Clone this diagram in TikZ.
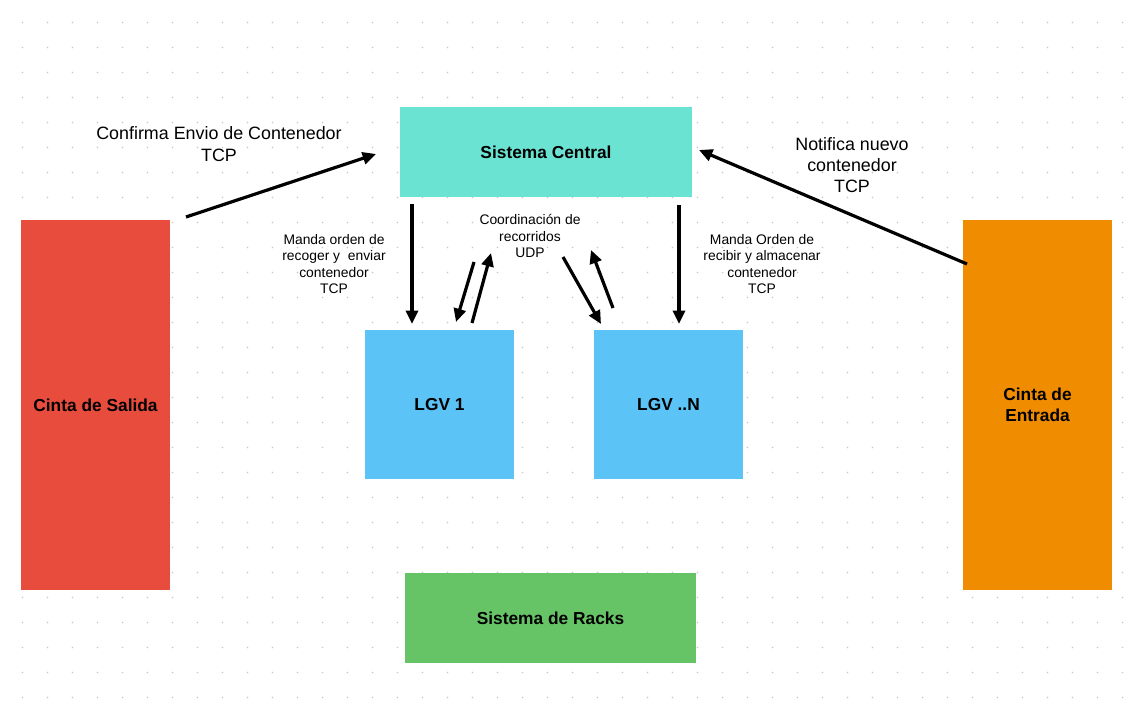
\documentclass[tikz,border=0pt]{standalone}
\usepackage{fontspec}
\setmainfont{Liberation Sans}
\usetikzlibrary{arrows.meta}
\definecolor{central}{HTML}{6BE3D3}
\definecolor{salida}{HTML}{E84C3D}
\definecolor{entrada}{HTML}{F08C00}
\definecolor{lgv}{HTML}{5BC3F5}
\definecolor{racks}{HTML}{66C466}
\tikzset{
  box/.style={rectangle, inner sep=0pt, font=\fontsize{13}{15.5}\selectfont\bfseries, text=black, align=center},
  arr/.style={line width=2.4pt, -{Triangle[length=10pt,width=9pt]}},
  biglbl/.style={font=\fontsize{13.4}{16}\selectfont, align=center},
  smalllbl/.style={font=\fontsize{10.4}{12.3}\selectfont, align=center},
}
\begin{document}
\begin{tikzpicture}[x=0.75pt,y=-0.75pt]
\useasboundingbox (0,0) rectangle (1130,714);
\fill[white] (0,0) rectangle (1130,714);
\foreach \i in {0,...,44} {
  \foreach \j in {0,...,28} {
    \fill[black!22] (22.5+25*\i,22.5+25*\j) circle (0.9);
  }
}
\node[box, fill=central, minimum width=219pt, minimum height=67.5pt] (central) at (546,152) {Sistema Central};
\node[box, fill=salida, minimum width=111.75pt, minimum height=277.5pt] (salida) at (95.5,405) {Cinta de Salida};
\node[box, fill=entrada, minimum width=111.75pt, minimum height=277.5pt] (entrada) at (1037.5,405) {Cinta de\\Entrada};
\node[box, fill=lgv, minimum width=111.75pt, minimum height=111.75pt] (lgv1) at (439.5,404.5) {LGV 1};
\node[box, fill=lgv, minimum width=111.75pt, minimum height=111.75pt] (lgvn) at (668.5,404.5) {LGV ..N};
\node[box, fill=racks, minimum width=218.25pt, minimum height=67.5pt] (racks) at (550.5,618) {Sistema de Racks};

\coordinate (s1) at (186,217); \coordinate (s2) at (376,154);
\coordinate (e1) at (967,264); \coordinate (e2) at (699,150);
\coordinate (d1a) at (412,204); \coordinate (d1b) at (412,324);
\coordinate (d2a) at (679,205); \coordinate (d2b) at (679,324);
\coordinate (p1a) at (474,262); \coordinate (p1b) at (456,322);
\coordinate (p2a) at (472,323); \coordinate (p2b) at (491,253);
\coordinate (q1a) at (563,257); \coordinate (q1b) at (601,324);
\coordinate (q2a) at (613,308); \coordinate (q2b) at (591,250);

\draw[arr] (s1) -- (s2);
\draw[arr] (e1) -- (e2);
\draw[arr] (d1a) -- (d1b);
\draw[arr] (d2a) -- (d2b);
\draw[arr] (p1a) -- (p1b);
\draw[arr] (p2a) -- (p2b);
\draw[arr] (q1a) -- (q1b);
\draw[arr] (q2a) -- (q2b);

\node[biglbl] (lconf) at (219,144) {Confirma Envio de Contenedor\\TCP};
\node[biglbl] (lnot) at (852,165) {Notifica nuevo\\contenedor\\TCP};
\node[smalllbl] (lman1) at (334,264) {Manda orden de\\recoger y\ \ enviar\\contenedor\\TCP};
\node[smalllbl] (lcoord) at (530,236) {Coordinación de\\recorridos\\UDP};
\node[smalllbl] (lman2) at (762,264) {Manda Orden de\\recibir y almacenar\\contenedor\\TCP};
\end{tikzpicture}
\end{document}
